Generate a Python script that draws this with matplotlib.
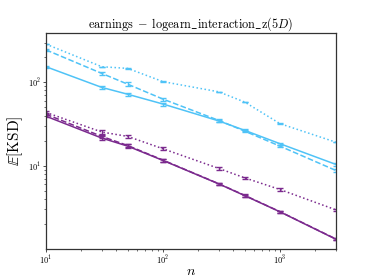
import matplotlib
matplotlib.use("Agg")
import matplotlib.pyplot as plt
import numpy as np

plt.rcParams['mathtext.fontset'] = 'cm'
plt.rcParams['font.family'] = 'serif'
plt.rcParams['font.serif'] = ['cmr10', 'DejaVu Serif']
plt.rcParams['axes.formatter.use_mathtext'] = True

n = [10, 30, 50, 100, 300, 500, 1000, 3000]

cyan_solid = [154, 87, 72, 55, 34.5, 26.6, 18.4, 10.4]
cyan_dashed = [245, 128, 95, 63, 35, 26, 17.2, 8.8]
cyan_dotted = [287, 154, 147, 102, 77, 58, 32, 19.2]
purple_solid = [39.3, 21.5, 17.2, 11.6, 6.07, 4.39, 2.81, 1.32]
purple_dashed = [41.5, 22.5, 17.5, 11.7, 6.1, 4.42, 2.82, 1.33]
purple_dotted = [43.6, 25.4, 22.5, 16.0, 9.3, 7.17, 5.2, 2.97]

rel_err = [0.03, 0.05, 0.05, 0.04, 0.03, 0.03, 0.03, 0.03]
rel_err_small = [0.005, 0.005, 0.005, 0.005, 0.005, 0.005, 0.005, 0.005]

cyan = '#4fc3f7'
purple = '#7b2a8e'

fig = plt.figure(figsize=(3.74, 2.80), dpi=100)
ax = fig.add_axes([0.123, 0.111, 0.775, 0.771])

series = [
    (cyan_solid, cyan, '-', rel_err),
    (cyan_dashed, cyan, '--', rel_err),
    (cyan_dotted, cyan, ':', rel_err_small),
    (purple_solid, purple, '-', rel_err),
    (purple_dashed, purple, '--', rel_err),
    (purple_dotted, purple, ':', rel_err),
]
for vals, col, ls, re in series:
    v = np.array(vals)
    err = v * np.array(re)
    ax.errorbar(n, v, yerr=err, color=col, linestyle=ls, linewidth=1.1,
                capsize=2.5, elinewidth=1.0, capthick=1.0)

ax.set_xscale('log')
ax.set_yscale('log')
ax.set_xlim(10, 3000)
ax.set_ylim(1.01, 390)
ax.tick_params(labelsize=6, width=0.6, length=2.5, pad=1.2, color='#333333')
ax.tick_params(which='minor', width=0.5, length=1.6, color='#333333')
for s in ax.spines.values():
    s.set_color('#333333')
    s.set_linewidth(0.9)

ax.set_title(r'$\mathrm{earnings}\;-\;\mathrm{logearn\_interaction\_z}(5D)$', fontsize=8.8, pad=4)
ax.set_xlabel(r'$n$', fontsize=10, labelpad=-1)
ax.set_ylabel(r'$\mathbb{E}[\mathrm{KSD}]$', fontsize=11, labelpad=2)

fig.savefig('out.png', dpi=100)
